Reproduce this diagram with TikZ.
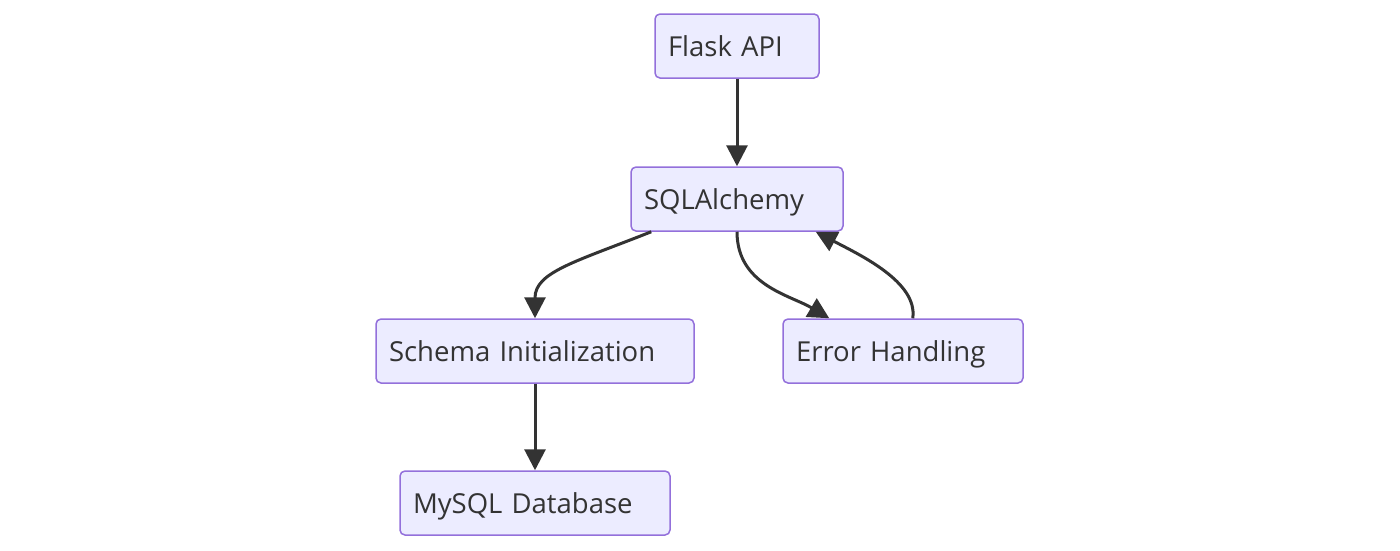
\documentclass[tikz,border=0pt]{standalone}
\usepackage{fontspec}
\setmainfont{Open Sans}
\usetikzlibrary{arrows.meta}
\definecolor{ink}{HTML}{333333}
\definecolor{boxline}{HTML}{9370DB}
\definecolor{boxfill}{HTML}{ECECFF}

\begin{document}
\begin{tikzpicture}[x=1pt, y=-1pt,
    font=\fontsize{27.5}{32}\selectfont,
    box/.style={rectangle, draw=boxline, line width=1.5pt, rounded corners=5pt,
                fill=boxfill, text=ink, minimum height=64pt, inner xsep=13pt,
                text height=22pt, text depth=2pt, align=left},
    arr/.style={-{Triangle[length=21pt, width=21pt]}, line width=3pt, ink}]
  \useasboundingbox (0,0) rectangle (1400,550);
  \node[box, text width=138pt] (flask) at (737,46) {Flask API};
  \node[box, text width=186pt] (sql) at (737,199) {SQLAlchemy};
  \node[box, text width=292pt] (schema) at (535,351) {Schema Initialization};
  \node[box, text width=214pt] (err) at (903,351) {Error Handling};
  \node[box, text width=244pt] (mysql) at (535,503) {MySQL Database};
  \draw[arr] (flask) -- (sql);
  \draw[arr] ([xshift=21pt]sql.south west) .. controls (575,262) and (535,272) .. (schema.north);
  \draw[arr] (sql.south) .. controls (737,285) and (790,295) .. ([xshift=47pt]err.north west);
  \draw[arr] ([xshift=-111pt]err.north east) .. controls (918,282) and (860,255) .. ([xshift=-28pt]sql.south east);
  \draw[arr] (schema) -- (mysql);
\end{tikzpicture}
\end{document}
